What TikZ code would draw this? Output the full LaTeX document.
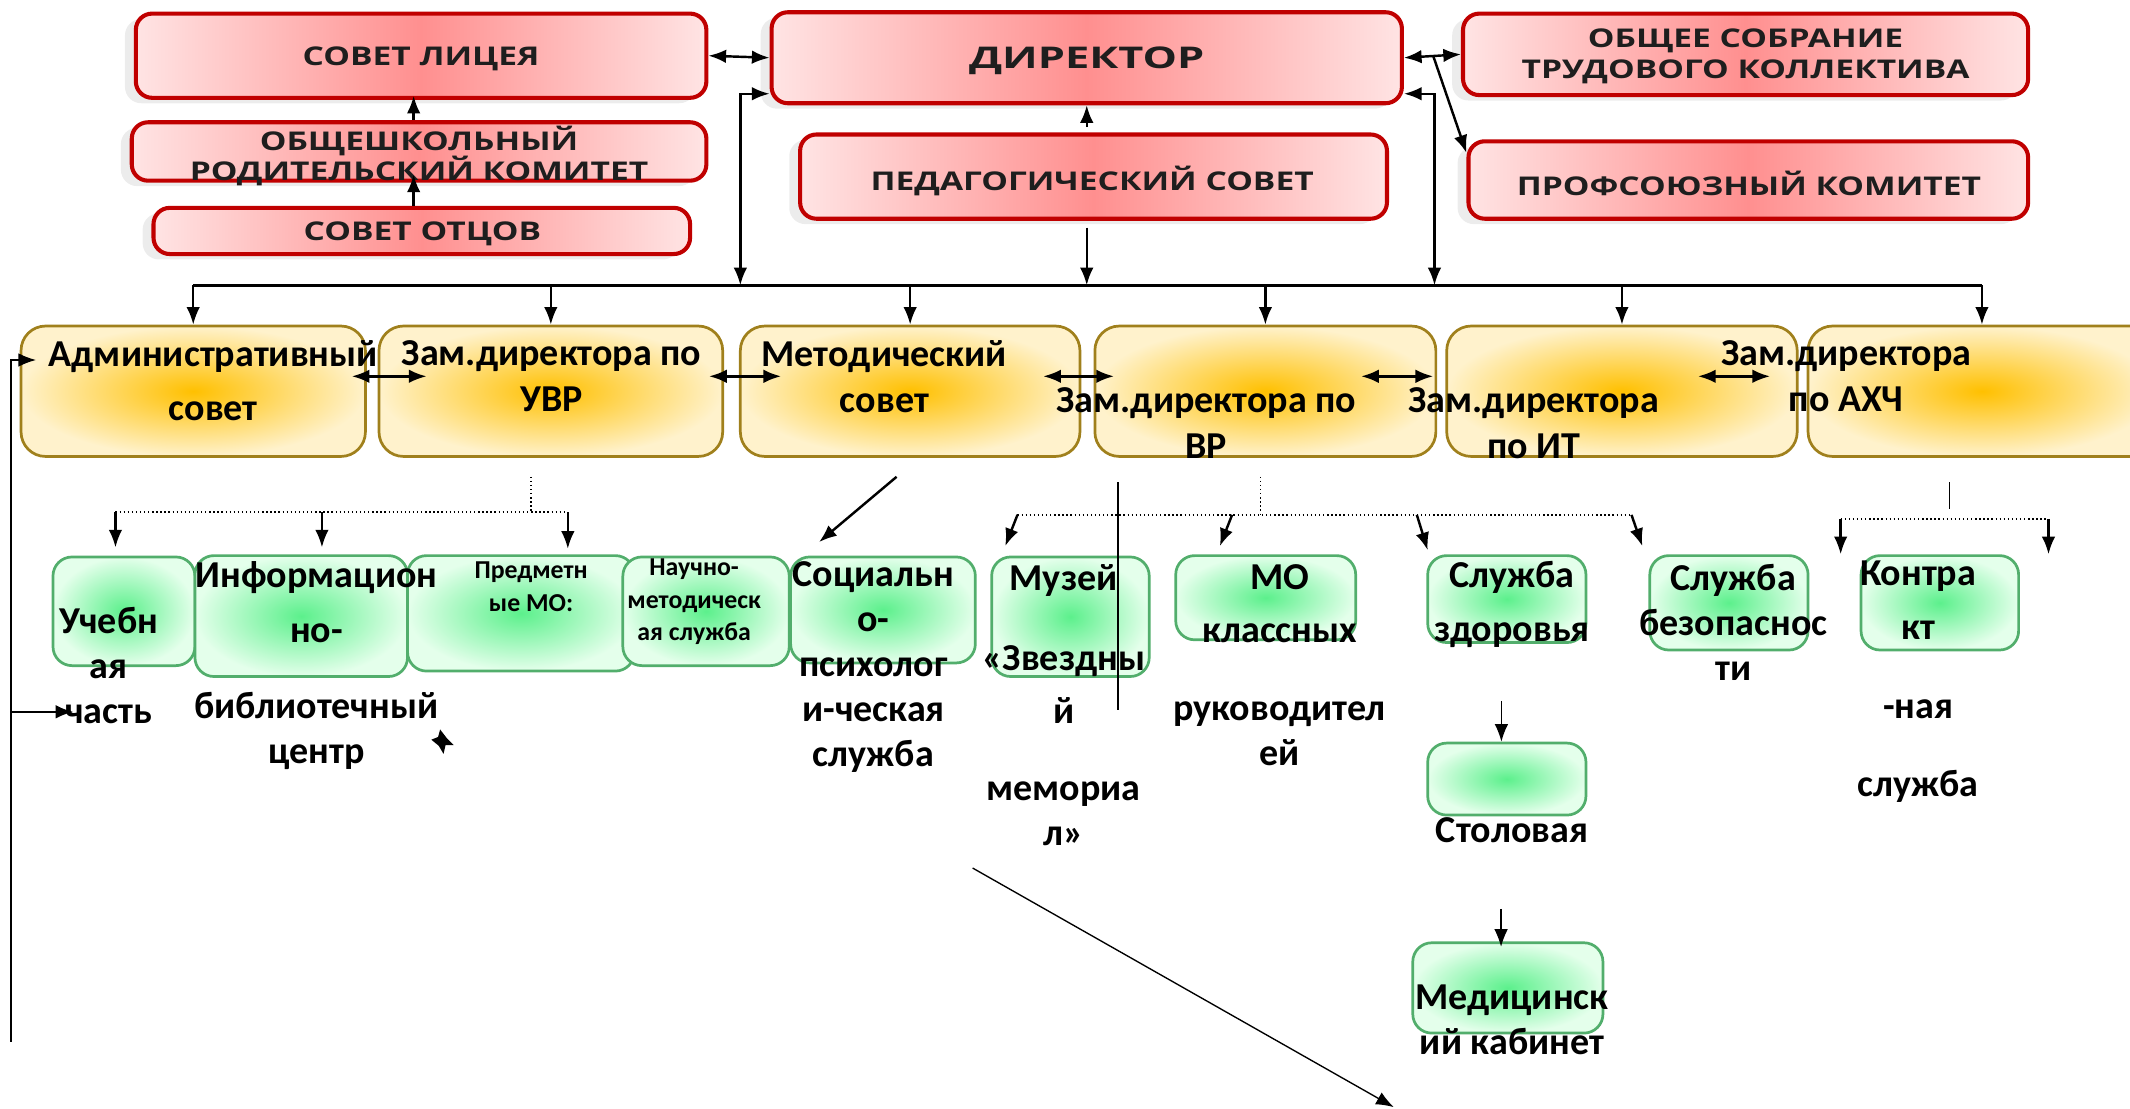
\documentclass[tikz,border=0pt]{standalone}
\usepackage{fontspec}
\setmainfont{Carlito}
\newfontfamily\capsfont[FakeStretch=1.3]{Open Sans}
\newfontfamily\dirfont[FakeStretch=1.45]{Open Sans}
\usepackage{tikz}
\usetikzlibrary{arrows.meta}
\usetikzlibrary{fit}
\usetikzlibrary{shadows}
\usepackage{xcolor}

\definecolor{redline}{HTML}{C00000}
\definecolor{redmid}{HTML}{FF8F8F}
\definecolor{redside}{HTML}{FFE4E4}
\definecolor{capstext}{HTML}{1E1E1E}
\definecolor{ylwline}{HTML}{A0801C}
\definecolor{ylwmid}{HTML}{FFC000}
\definecolor{ylwside}{HTML}{FFF2CC}
\definecolor{grnline}{HTML}{52AE6C}
\definecolor{grnmid}{HTML}{5CF08C}
\definecolor{grnside}{HTML}{E4FFEB}

\begin{document}
\begin{tikzpicture}[x=0.5pt,y=-0.5pt,>={Latex[length=6.5pt,width=5pt]},
    conn/.style={line width=0.9pt},thinconn/.style={line width=0.5pt}]
    \tikzstyle{every node}=[inner sep=0pt]
    \tikzstyle{rbox}=[draw=redline,line width=1.5pt,rounded corners=6pt,
      left color=redside,right color=redside,middle color=redmid,
      drop shadow={shadow xshift=-4pt,shadow yshift=-2pt,opacity=.15}]
    \tikzstyle{rtxt}=[font=\capsfont\bfseries\fontsize{9.5}{11}\selectfont,text=capstext,align=center,yshift=-1.5pt]
    \tikzstyle{ybox}=[draw=ylwline,line width=1pt,rounded corners=9pt,
      inner color=ylwmid,outer color=ylwside]
    \tikzstyle{gbox}=[draw=grnline,line width=1pt,rounded corners=7pt,
      inner color=grnmid,outer color=grnside]
    \tikzstyle{ytxt}=[font=\bfseries\fontsize{14}{17}\selectfont,align=center]
    \tikzstyle{gtxt}=[font=\bfseries\fontsize{14}{16.5}\selectfont,align=center]
    \tikzstyle{stxt}=[font=\bfseries\fontsize{9.5}{12}\selectfont,align=center]
    \useasboundingbox (0,0) rectangle (1568,816);

    % administration
    \node[rbox,fit={(100,10) (520,72)}] (sovet) {};
    \node[rbox,fit={(97,90) (520,133)}] (roditel) {};
    \node[rbox,fit={(113,153) (508,187)}] (otcy) {};
    \node[rbox,fit={(568,9) (1032,76)}] (dir) {};
    \node[rbox,fit={(589,99) (1021,161)}] (ped) {};
    \node[rbox,fit={(1077,10) (1493,70)}] (sobr) {};
    \node[rbox,fit={(1081,104) (1493,161)}] (prof) {};
    \node[rtxt] (sovet-t) at (310,40.5) {СОВЕТ ЛИЦЕЯ};
    \node[rtxt] (roditel-t) at (308.5,111.5) {ОБЩЕШКОЛЬНЫЙ\\РОДИТЕЛЬСКИЙ КОМИТЕТ};
    \node[rtxt] (otcy-t) at (311,169) {СОВЕТ ОТЦОВ};
    \node[rtxt,font=\dirfont\bfseries\fontsize{11}{13}\selectfont] (dir-t) at (800,42) {ДИРЕКТОР};
    \node[rtxt] (ped-t) at (804,130) {ПЕДАГОГИЧЕСКИЙ СОВЕТ};
    \node[rtxt,font=\capsfont\bfseries\fontsize{9.5}{11.5}\selectfont] (sobr-t) at (1285,38.5) {ОБЩЕЕ СОБРАНИЕ\\ТРУДОВОГО КОЛЛЕКТИВА};
    \node[rtxt] (prof-t) at (1287.5,132) {ПРОФСОЮЗНЫЙ КОМИТЕТ};

    % deputies
    \node[ybox,fit={(15.5,240) (269,336)}] (adm) {};
    \node[ybox,fit={(279,240) (532,336)}] (uvr) {};
    \node[ybox,fit={(545,240) (795,336)}] (met) {};
    \node[ybox,fit={(806,240) (1057,336)}] (vr) {};
    \node[ybox,fit={(1065,240) (1323,336)}] (it) {};
    \node[ybox,fit={(1331,240) (1587,336)}] (axch) {};
    \node[ytxt] (adm-t) at (157,280) {Административный\\[3pt]совет};
    \node[ytxt] (uvr-t) at (406,277) {Зам.директора по\\УВР};
    \node[ytxt] (met-t) at (651,277) {Методический\\совет};
    \node[ytxt] (vr-t) at (888,311.5) {Зам.директора по\\ВР};
    \node[ytxt] (it-t) at (1129,311.5) {Зам.директора\\по ИТ};
    \node[ytxt] (axch-t) at (1359,277) {Зам.директора\\по АХЧ};

    % services
    \node[gbox,fit={(39,410) (143.5,490)}] (uch) {};
    \node[gbox,fit={(143.5,409) (300,498)}] (info) {};
    \node[gbox,fit={(300,409) (467,494)}] (pred) {};
    \node[gbox,fit={(458.5,410) (581,490)}] (nauch) {};
    \node[gbox,fit={(582,410) (718,488)}] (soc) {};
    \node[gbox,fit={(730,410) (846,498)}] (muz) {};
    \node[gbox,fit={(865.5,409) (998,471)}] (mo) {};
    \node[gbox,fit={(1051,409) (1167.5,473)}] (zd) {};
    \node[gbox,fit={(1214.5,409) (1331,478.5)}] (bez) {};
    \node[gbox,fit={(1370,409) (1486,478.5)}] (kont) {};
    \node[gbox,fit={(1051,547) (1167.5,600)}] (stol) {};
    \node[gbox,fit={(1040,694) (1180,760.5)}] (med) {};
    \node[gtxt] (uch-t) at (80,490) {Учебн\\ая\\часть};
    \node[gtxt] (info-t) at (233,490) {Информацион\\[3.75pt]но-\\[11.5pt]библиотечный\\центр};
    \node[stxt] (pred-t) at (391,432) {Предметн\\ые МО:};
    \node[stxt] (nauch-t) at (511,443) {Научно-\\методическ\\ая служба};
    \node[gtxt] (soc-t) at (643,491) {Социальн\\о-\\психолог\\и-ческая\\служба};
    \node[gtxt] (muz-t) at (783,519) {Музей\\[13pt]«Звездны\\[3pt]й\\[11.75pt]мемориа\\л»};
    \node[gtxt] (mo-t) at (942,489.5) {МО\\[3.25pt]классных\\[12pt]руководител\\ей};
    \node[gtxt] (zd-t) at (1113,445) {Служба\\[3.25pt]здоровья};
    \node[gtxt] (bez-t) at (1276,458) {Служба\\безопаснос\\ти};
    \node[gtxt] (kont-t) at (1412,502) {Контра\\[3.25pt]кт\\[12.75pt]-ная\\[12.25pt]служба};
    \node[gtxt] (stol-t) at (1113,611) {Столовая};
    \node[gtxt] (med-t) at (1113,751) {Медицинск\\ий кабинет};

    % free ends
    \coordinate (bus) at (0,210);
    \coordinate (split) at (1055,41);
    \coordinate (elbL) at (545,69);
    \coordinate (elbR) at (1056,69);
    \coordinate (loopT) at (8,265);
    \coordinate (loopB) at (8,767);
    \coordinate (chast) at (54,524);
    \coordinate (uvrA) at (85,377);
    \coordinate (uvrB) at (237,377);
    \coordinate (uvrC) at (418,377);
    \coordinate (vrA) at (749,379);
    \coordinate (vrB) at (907,379);
    \coordinate (vrC) at (1043,379);
    \coordinate (vrD) at (1201,379);
    \coordinate (axS) at (1435,355);
    \coordinate (axJ) at (1435,375);
    \coordinate (axA) at (1355,382);
    \coordinate (axB) at (1508,382);
    \coordinate (lineA) at (823,355);
    \coordinate (lineB) at (823,523);
    \coordinate (diagA) at (716,639);
    \coordinate (diagB) at (1026,815);

    % top links
    \draw[conn,<->] (sovet.east) -- (dir.west);
    \draw[conn,<->] (dir.east) -- (sobr.west);
    \draw[conn,->] (split) -- ([yshift=-5pt]prof.north west);
    \draw[conn,->,shorten >=-3pt] ([xshift=-3pt]otcy.north) -- ([xshift=-3pt]otcy.north |- roditel.south);
    \draw[conn,->,shorten >=-1.5pt] ([xshift=-2pt]roditel.north) -- ([xshift=-2pt]roditel.north |- sovet.south);
    \draw[conn,->,shorten <=2pt] (ped.north -| dir.south) -- (dir.south);
    \draw[conn,->,shorten <=2.5pt] (ped.south -| dir.south) -- (dir.south |- bus);
    \draw[conn,<->] (dir.west |- elbL) -- (elbL) -- (elbL |- bus);
    \draw[conn,<->] (dir.east |- elbR) -- (elbR) -- (elbR |- bus);

    % bus
    \draw[conn] (adm.north |- bus) -- (axch.north |- bus);
    \foreach \n in {adm,uvr,met,vr,it,axch}
      \draw[conn,->] (\n.north |- bus) -- (\n.north);
    \draw[conn,<->] ([xshift=-5.5pt,yshift=5.5pt]adm.east) -- ([xshift=18pt,yshift=5.5pt]uvr.west);
    \draw[conn,<->] ([xshift=-5.5pt,yshift=5.5pt]uvr.east) -- ([xshift=15.5pt,yshift=5.5pt]met.west);
    \draw[conn,<->] ([xshift=-14pt,yshift=5.5pt]met.east) -- ([xshift=7.5pt,yshift=5.5pt]vr.west);
    \draw[conn,<->] ([xshift=-28pt,yshift=5.5pt]vr.east) -- ([xshift=-4.5pt,yshift=5.5pt]it.west);
    \draw[conn,<->] ([xshift=-37pt,yshift=5.5pt]it.east) -- ([xshift=-13.5pt,yshift=5.5pt]axch.west);

    % left loop
    \draw[thinconn,->] (loopB) -- (loopT) -- ([xshift=6pt]adm.west |- loopT);
    \draw[conn,->] (loopB |- chast) -- (chast);

    % uvr branch
    \draw[thinconn,densely dotted] ([xshift=-7.25pt,yshift=-7pt]uvr.south) -- ([xshift=-7.25pt]uvr.south |- uvrA);
    \draw[thinconn,densely dotted] (uvrA) -- (uvrC);
    \draw[conn,->,shorten >=3pt] (uvrA) -- (uvrA |- uch.north);
    \draw[conn,->,shorten >=2.5pt] (uvrB) -- (uvrB |- info.north);
    \draw[conn,->,shorten >=2pt] (uvrC) -- (uvrC |- pred.north);
    \draw[conn,->] ([xshift=-5pt,yshift=-7pt]met.south) -- ([xshift=-23.5pt,yshift=5pt]soc.north);

    % vr branch
    \draw[thinconn,densely dotted] ([xshift=-1.75pt,yshift=-7pt]vr.south) -- ([xshift=-1.75pt]vr.south |- vrA);
    \draw[thinconn,densely dotted] (vrA) -- (vrD);
    \draw[conn,->] (vrA) -- ([xshift=5.5pt,yshift=3.5pt]muz.north west);
    \draw[conn,->] (vrB) -- ([xshift=16.75pt,yshift=3pt]mo.north west);
    \draw[conn,->] (vrC) -- ([xshift=.5pt,yshift=1.5pt]zd.north west);
    \draw[conn,->] (vrD) -- ([xshift=-2.25pt,yshift=3pt]bez.north west);
    \draw[thinconn] (lineA) -- (lineB);

    % axch branch
    \draw[thinconn] (axS) -- (axJ);
    \draw[thinconn,densely dotted] (axA) -- (axB);
    \draw[conn,->] (axA) -- (axA |- kont.north);
    \draw[conn,->] (axB) -- (axB |- kont.north);

    % health
    \draw[thinconn,->] ([xshift=-2pt,yshift=15pt]stol.north) -- ([xshift=-2pt]stol.north);
    \draw[thinconn,->] ([xshift=-2.5pt,yshift=12pt]med.north) -- ([xshift=-2.5pt,yshift=-2pt]med.north);
    \draw[thinconn,->] (diagA) -- (diagB);
    \fill (324,537) -- (329,543.5) -- (334,548.5) -- (328,548.5) -- (326.5,555)
      -- (323,549) -- (317.5,544.5) -- (322.5,542.5) -- cycle;
\end{tikzpicture}
\end{document}
